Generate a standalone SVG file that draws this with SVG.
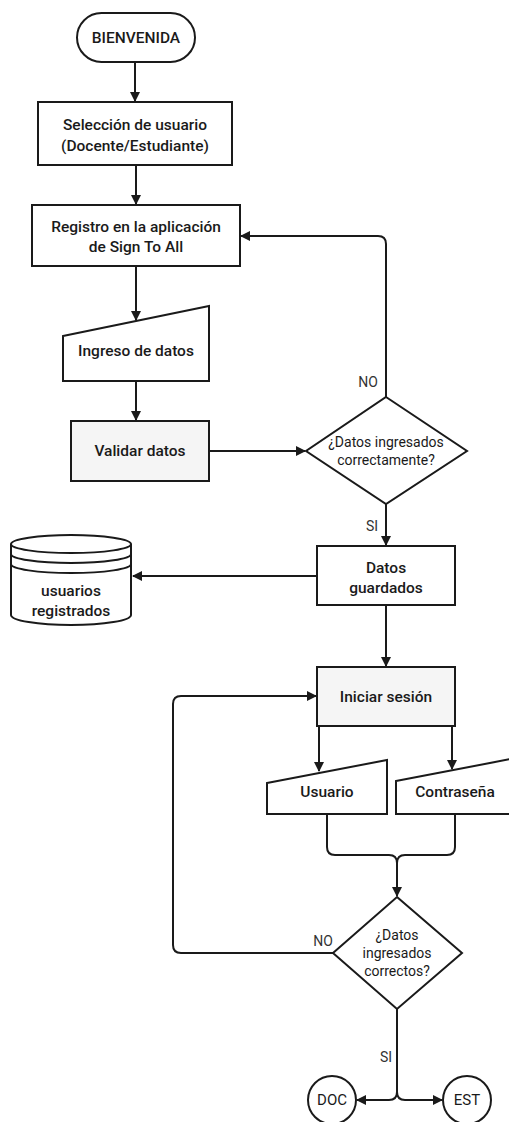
<svg xmlns="http://www.w3.org/2000/svg" width="509" height="1122" viewBox="0 0 509 1122">
  <style>
    .shape { fill: #ffffff; stroke: #1a1a1a; stroke-width: 2; }
    .gray { fill: #f5f5f5; }
    .lbl { font-family: Roboto, "Liberation Sans", sans-serif; font-size: 15.5px; font-weight: 500; fill: #1a1a1a; text-anchor: middle; }
    .q { font-family: Roboto, "Liberation Sans", sans-serif; font-size: 14px; fill: #1a1a1a; text-anchor: middle; }
    .term { font-family: Roboto, "Liberation Sans", sans-serif; font-size: 15px; fill: #1a1a1a; text-anchor: middle; }
    .tag { font-family: Roboto, "Liberation Sans", sans-serif; font-size: 14px; fill: #333333; text-anchor: middle; }
    .edge { fill: none; stroke: #1a1a1a; stroke-width: 2; }
  </style>
  <defs>
    <marker id="arrow" viewBox="0 0 10 10" refX="9" refY="5" markerWidth="5" markerHeight="5" orient="auto" markerUnits="strokeWidth">
      <path d="M0,0 L10,5 L0,10 z" fill="#1a1a1a"/>
    </marker>
  </defs>
  <rect width="509" height="1122" fill="#ffffff"/>

  <g id="connectors">
    <path class="edge" d="M135,62 V101" marker-end="url(#arrow)"/>
    <path class="edge" d="M136,165 V204" marker-end="url(#arrow)"/>
    <path class="edge" d="M136,266 V320" marker-end="url(#arrow)"/>
    <path class="edge" d="M136,381 V420" marker-end="url(#arrow)"/>
    <path class="edge" d="M209,451 H305" marker-end="url(#arrow)"/>
    <path class="edge" d="M386,397 V244 Q386,236 378,236 H241" marker-end="url(#arrow)"/>
    <path class="edge" d="M386,504 V545" marker-end="url(#arrow)"/>
    <path class="edge" d="M317,576 H133" marker-end="url(#arrow)"/>
    <path class="edge" d="M386,605 V666" marker-end="url(#arrow)"/>
    <path class="edge" d="M319,726 V771" marker-end="url(#arrow)"/>
    <path class="edge" d="M452,726 V769" marker-end="url(#arrow)"/>
    <path class="edge" d="M327,814 V847 Q327,855 335,855 H389 Q397,855 397,863"/>
    <path class="edge" d="M455,814 V847 Q455,855 447,855 H405 Q397,855 397,863"/>
    <path class="edge" d="M397,862 V896" marker-end="url(#arrow)"/>
    <path class="edge" d="M333,953 H181 Q173,953 173,945 V704 Q173,696 181,696 H316" marker-end="url(#arrow)"/>
    <path class="edge" d="M397,1009 V1092 Q397,1100 389,1100 H357" stroke-width="2.5" marker-end="url(#arrow)"/>
    <path class="edge" d="M397,1092 Q397,1100 405,1100 H442" stroke-width="2.5" marker-end="url(#arrow)"/>
    <text class="tag" x="368" y="387">NO</text>
    <text class="tag" x="372" y="531">SI</text>
    <text class="tag" x="323" y="946">NO</text>
    <text class="tag" x="386" y="1062">SI</text>
  </g>

  <g id="bienvenida">
    <rect class="shape" x="77" y="13" width="118" height="49" rx="24.5"/>
    <text class="lbl" x="136" y="43">BIENVENIDA</text>
  </g>

  <g id="seleccion">
    <rect class="shape" x="38" y="102" width="194" height="63"/>
    <text class="lbl" x="135" y="130">Selección de usuario</text>
    <text class="lbl" x="135" y="151">(Docente/Estudiante)</text>
  </g>

  <g id="registro">
    <rect class="shape" x="32" y="205" width="208" height="61"/>
    <text class="lbl" x="136" y="232">Registro en la aplicación</text>
    <text class="lbl" x="136" y="252">de Sign To All</text>
  </g>

  <g id="ingreso">
    <path class="shape" d="M63,336 L209,306 V381 H63 Z"/>
    <text class="lbl" x="136" y="356">Ingreso de datos</text>
  </g>

  <g id="validar">
    <rect class="shape gray" x="71" y="421" width="138" height="60"/>
    <text class="lbl" x="140" y="456">Validar datos</text>
  </g>

  <g id="decision-registro">
    <path class="shape" d="M386,397 L467,451 L386,504 L306,451 Z"/>
    <text class="q" x="386" y="447">¿Datos ingresados</text>
    <text class="q" x="386" y="465">correctamente?</text>
  </g>

  <g id="datos-guardados">
    <rect class="shape" x="317" y="546" width="138" height="59"/>
    <text class="lbl" x="386" y="573">Datos</text>
    <text class="lbl" x="386" y="593">guardados</text>
  </g>

  <g id="usuarios-registrados">
    <path class="shape" d="M11,544 V615 A60,10 0 0 0 131,615 V544"/>
    <ellipse class="shape" cx="71" cy="544" rx="60" ry="9"/>
    <path class="edge" d="M11,554 A60,9 0 0 0 131,554"/>
    <path class="edge" d="M11,564 A60,9 0 0 0 131,564"/>
    <text class="lbl" x="71" y="596">usuarios</text>
    <text class="lbl" x="71" y="616">registrados</text>
  </g>

  <g id="iniciar-sesion">
    <rect class="shape gray" x="317" y="667" width="138" height="59"/>
    <text class="lbl" x="386" y="702">Iniciar sesión</text>
  </g>

  <g id="usuario">
    <path class="shape" d="M267,783 L387,760 V814 H267 Z"/>
    <text class="lbl" x="327" y="797">Usuario</text>
  </g>

  <g id="contrasena">
    <path class="shape" d="M396,781 L516,758 V814 H396 Z"/>
    <text class="lbl" x="455" y="797">Contraseña</text>
  </g>

  <g id="decision-sesion">
    <path class="shape" d="M397,897 L462,953 L397,1009 L333,953 Z"/>
    <text class="q" x="397" y="940">¿Datos</text>
    <text class="q" x="397" y="958">ingresados</text>
    <text class="q" x="397" y="976">correctos?</text>
  </g>

  <g id="doc">
    <circle class="shape" cx="332" cy="1100" r="24"/>
    <text class="term" x="332" y="1105">DOC</text>
  </g>

  <g id="est">
    <circle class="shape" cx="467" cy="1100" r="24"/>
    <text class="term" x="467" y="1105">EST</text>
  </g>
</svg>
